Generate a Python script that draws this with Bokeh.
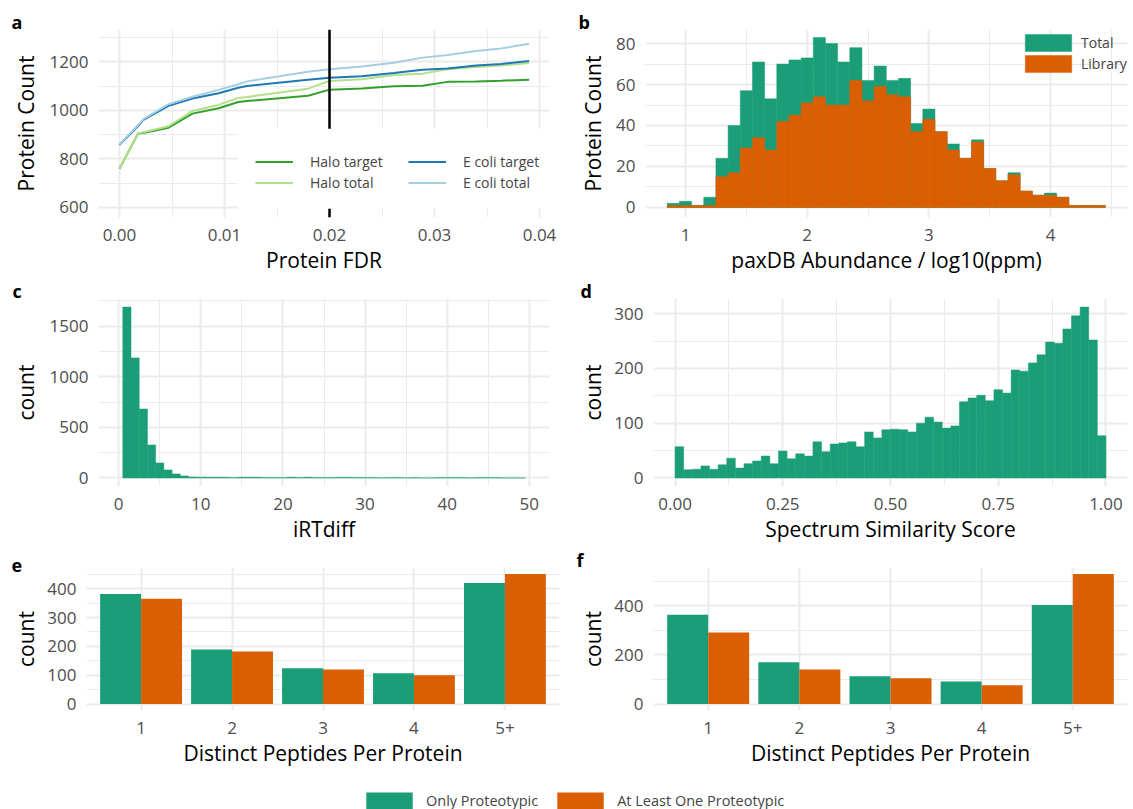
from bokeh.plotting import figure
from bokeh.models import (Range1d, FixedTicker, Legend, LegendItem, Span, BoxAnnotation,
                          ColumnDataSource, NumeralTickFormatter)
from bokeh.layouts import row, column
from bokeh.transform import dodge
from bokeh.embed import file_html
from bokeh.resources import INLINE

# ---------------- data ----------------
# panel a
fdr = [0.0, 0.00177, 0.00228, 0.00467, 0.00695, 0.00944, 0.01131, 0.01216, 0.01796,
       0.0200, 0.02307, 0.02613, 0.02886, 0.03124, 0.03397, 0.03635, 0.03901]
halo_target = [760, 905, 907, 929, 987, 1009, 1035, 1039, 1061, 1086, 1091, 1100, 1102, 1118, 1120, 1123, 1127]
halo_total = [760, 905, 910, 935, 998, 1023, 1052, 1056, 1090, 1122, 1129, 1146, 1152, 1170, 1179, 1185, 1196]
ecoli_target = [858, 936, 961, 1019, 1049, 1071, 1094, 1101, 1127, 1135, 1141, 1155, 1168, 1173, 1186, 1192, 1204]
ecoli_total = [861, 940, 964, 1026, 1057, 1085, 1108, 1120, 1160, 1170, 1181, 1197, 1218, 1229, 1245, 1256, 1275]
fdr_cutoff = 0.02

# panel b (bin centres, width 0.1)
b_centers = [0.9, 1.0, 1.1, 1.2, 1.3, 1.4, 1.5, 1.6, 1.7, 1.8, 1.9, 2.0, 2.1, 2.2, 2.3, 2.4, 2.5, 2.6,
             2.7, 2.8, 2.9, 3.0, 3.1, 3.2, 3.3, 3.4, 3.5, 3.6, 3.7, 3.8, 3.9, 4.0, 4.1, 4.2, 4.3, 4.4]
b_total = [2, 3, 1, 5, 24, 40, 57, 71, 53, 70, 72, 73, 83, 80, 71, 78, 62, 69,
           62, 63, 41, 48, 37, 31, 24, 33, 19, 13, 17, 8, 6, 7, 5, 1, 1, 1]
b_library = [1, 1, 1, 1, 15, 17, 29, 34, 28, 42, 45, 51, 54, 50, 50, 62, 52, 59,
             55, 54, 37, 43, 37, 28, 24, 32, 19, 13, 16, 8, 6, 6, 5, 1, 1, 1]

# panel c (bin centres 1..49, width 1)
c_centers = list(range(1, 50))
c_counts = [1690, 1187, 682, 326, 148, 79, 40, 20, 10, 8, 6, 6, 6, 3, 6, 6, 6, 3, 3, 3,
            6, 3, 6, 3, 3, 3, 5, 5, 3, 3, 3, 0, 3, 3, 0, 3, 0, 0, 3, 3,
            3, 3, 0, 3, 3, 3, 0, 0, 0]

# panel d (bin centres, width 0.02)
d_centers = [0.01, 0.03, 0.05, 0.07, 0.09, 0.11, 0.13, 0.15, 0.17, 0.19, 0.21, 0.23, 0.25, 0.27, 0.29,
             0.31, 0.33, 0.35, 0.37, 0.39, 0.41, 0.43, 0.45, 0.47, 0.49, 0.51, 0.53, 0.55, 0.57, 0.59,
             0.61, 0.63, 0.65, 0.67, 0.69, 0.71, 0.73, 0.75, 0.77, 0.79, 0.81, 0.83, 0.85, 0.87, 0.89,
             0.91, 0.93, 0.95, 0.97, 0.99]
d_counts = [57, 15, 16, 22, 16, 24, 36, 18, 26, 31, 40, 26, 49, 35, 44, 40, 66, 48, 62, 64,
            66, 57, 84, 73, 88, 89, 88, 84, 100, 111, 102, 91, 95, 139, 146, 151, 141, 161, 155, 197,
            195, 210, 225, 248, 246, 272, 296, 312, 252, 77]

# panels e, f
pep_categories = ["1", "2", "3", "4", "5+"]
e_only = [382, 189, 124, 107, 420]
e_atleast = [365, 182, 120, 100, 451]
f_only = [364, 170, 113, 92, 404]
f_atleast = [291, 141, 105, 76, 530]

# ---------------- style ----------------
FONT = "Open Sans"
GRID = "#ebebeb"
GREEN = "#1b9e77"
ORANGE = "#d95f02"
KEY_W = 58   # legend area glyphs are drawn with a 10% inset
KEY_H = 21


def make_fig(w, h, left, right, top, bottom, xr, yr, letter, letter_offset, y_title_gap):
    p = figure(width=w, height=h, x_range=Range1d(*xr), y_range=Range1d(*yr),
               output_backend="svg", toolbar_location=None,
               min_border_left=left, min_border_right=right,
               min_border_top=top, min_border_bottom=bottom)
    p.outline_line_color = None
    for ax in (p.xaxis[0], p.yaxis[0]):
        ax.axis_line_color = None
        ax.major_tick_line_color = None
        ax.minor_tick_line_color = None
        ax.major_tick_out = 0
        ax.minor_tick_out = 0
        ax.major_label_text_font = FONT
        ax.major_label_text_font_size = "17px"
        ax.major_label_text_color = "#4d4d4d"
        ax.axis_label_text_font = FONT
        ax.axis_label_text_font_size = "21px"
        ax.axis_label_text_font_style = "normal"
        ax.axis_label_text_color = "black"
    p.xaxis.major_label_standoff = 11
    p.xaxis.axis_label_standoff = 2
    p.yaxis.major_label_standoff = 10
    p.yaxis.axis_label_standoff = y_title_gap
    p.grid.grid_line_color = GRID
    p.grid.grid_line_width = 2
    p.grid.minor_grid_line_color = GRID
    p.grid.minor_grid_line_width = 1
    # panel letter
    p.title.text = letter
    p.title.align = "left"
    p.title.offset = letter_offset
    p.title.standoff = -8
    p.title.vertical_align = "bottom"
    p.title.text_font = FONT
    p.title.text_font_style = "bold"
    p.title.text_font_size = "18px"
    p.title.text_color = "black"
    return p


LW = 576
RW = 557

# ---------------- panel a ----------------
pa = make_fig(LW, 279, 98, 27, 29, 62, (-0.002, 0.04095), (558.6, 1334), "a", -87, 7)
pa.xaxis.ticker = FixedTicker(ticks=[0, 0.01, 0.02, 0.03, 0.04],
                              minor_ticks=[-0.005, 0.005, 0.015, 0.025, 0.035, 0.045])
pa.xaxis.formatter = NumeralTickFormatter(format="0.00")
pa.yaxis.ticker = FixedTicker(ticks=[600, 800, 1000, 1200], minor_ticks=[500, 700, 900, 1100, 1300])
pa.xaxis.axis_label = "Protein FDR"
pa.yaxis.axis_label = "Protein Count"
src_a = ColumnDataSource(dict(fdr=fdr, ht=halo_target, hto=halo_total, et=ecoli_target, eto=ecoli_total))
r_ht = pa.line("fdr", "ht", source=src_a, line_color="#33a02c", line_width=2)
r_hto = pa.line("fdr", "hto", source=src_a, line_color="#b2df8a", line_width=2)
r_et = pa.line("fdr", "et", source=src_a, line_color="#1f78b4", line_width=2)
r_eto = pa.line("fdr", "eto", source=src_a, line_color="#a6cee3", line_width=2)
pa.add_layout(Span(location=fdr_cutoff, dimension="height", line_color="black", line_width=2.5))
pa.add_layout(BoxAnnotation(left=0.01126, right=0.05, bottom=595, top=925,
                            fill_color="white", fill_alpha=1, line_color=None))
leg_a = Legend(items=[LegendItem(label="Halo target", renderers=[r_ht]),
                      LegendItem(label="Halo total", renderers=[r_hto]),
                      LegendItem(label="E coli target", renderers=[r_et]),
                      LegendItem(label="E coli total", renderers=[r_eto])],
               orientation="vertical", nrows=2, location=(157, 25),
               glyph_width=38, glyph_height=17, label_standoff=17, label_width=96,
               spacing=2, padding=0, margin=0, border_line_color=None,
               background_fill_alpha=0, label_text_font=FONT, label_text_font_size="14px")
pa.add_layout(leg_a)

# ---------------- panel b ----------------
pb = make_fig(RW, 279, 69, 6, 29, 62, (0.6713, 4.632), (-4.9, 86.85), "b", -67, 6)
pb.xaxis.ticker = FixedTicker(ticks=[1, 2, 3, 4], minor_ticks=[0.5, 1.5, 2.5, 3.5, 4.5])
pb.yaxis.ticker = FixedTicker(ticks=[0, 20, 40, 60, 80], minor_ticks=[10, 30, 50, 70])
pb.xaxis.axis_label = "paxDB Abundance / log10(ppm)"
pb.yaxis.axis_label = "Protein Count"
src_b = ColumnDataSource(dict(x=b_centers, total=b_total, lib=b_library))
r_tot = pb.vbar(x="x", top="total", width=0.1, source=src_b, fill_color=GREEN, line_color=GREEN, line_width=0.5)
r_lib = pb.vbar(x="x", top="lib", width=0.1, source=src_b, fill_color=ORANGE, line_color=ORANGE, line_width=0.5)
leg_b = Legend(items=[LegendItem(label="Total", renderers=[r_tot]),
                      LegendItem(label="Library", renderers=[r_lib])],
               location=(374, 143), glyph_width=KEY_W, glyph_height=KEY_H, label_standoff=4,
               label_width=50, spacing=0, padding=0, margin=0, border_line_color=None,
               background_fill_alpha=0, label_text_font=FONT, label_text_font_size="14px")
pb.add_layout(leg_b)

# ---------------- panel c ----------------
pc = make_fig(LW, 269, 98, 27, 19, 62, (-2.46, 52.46), (-84.5, 1774.5), "c", -86, 7)
pc.xaxis.ticker = FixedTicker(ticks=[0, 10, 20, 30, 40, 50], minor_ticks=[-5, 5, 15, 25, 35, 45, 55])
pc.yaxis.ticker = FixedTicker(ticks=[0, 500, 1000, 1500], minor_ticks=[250, 750, 1250, 1750])
pc.xaxis.axis_label = "iRTdiff"
pc.yaxis.axis_label = "count"
src_c = ColumnDataSource(dict(x=c_centers, top=c_counts))
pc.vbar(x="x", top="top", width=1, source=src_c, fill_color=GREEN, line_color=GREEN, line_width=0.5)

# ---------------- panel d ----------------
pd_ = make_fig(RW, 269, 77, 6, 19, 62, (-0.05, 1.05), (-15.6, 327.6), "d", -73, 4)
pd_.xaxis.ticker = FixedTicker(ticks=[0, 0.25, 0.5, 0.75, 1.0],
                               minor_ticks=[-0.125, 0.125, 0.375, 0.625, 0.875, 1.125])
pd_.xaxis.formatter = NumeralTickFormatter(format="0.00")
pd_.yaxis.ticker = FixedTicker(ticks=[0, 100, 200, 300], minor_ticks=[50, 150, 250])
pd_.xaxis.axis_label = "Spectrum Similarity Score"
pd_.yaxis.axis_label = "count"
src_d = ColumnDataSource(dict(x=d_centers, top=d_counts))
pd_.vbar(x="x", top="top", width=0.02, source=src_d, fill_color=GREEN, line_color=GREEN, line_width=0.5)


# ---------------- panels e, f ----------------
def bar_panel(w, left, right, ymax, yticks, yminor, only, atleast, name, lx, gap):
    p = make_fig(w, 224, left, right, 19, 62, (0.4, 5.6), (-0.05 * ymax, 1.05 * ymax), name, lx, gap)
    pos = [1, 2, 3, 4, 5]
    p.xaxis.ticker = FixedTicker(ticks=pos, minor_ticks=[])
    p.xaxis.major_label_overrides = {k: v for k, v in zip(pos, pep_categories)}
    p.yaxis.ticker = FixedTicker(ticks=yticks, minor_ticks=yminor)
    p.xaxis.axis_label = "Distinct Peptides Per Protein"
    p.yaxis.axis_label = "count"
    src = ColumnDataSource(dict(pos=pos, only=only, atleast=atleast))
    p.vbar(x=dodge("pos", -0.225), top="only", width=0.45, source=src, fill_color=GREEN, line_color=None)
    p.vbar(x=dodge("pos", 0.225), top="atleast", width=0.45, source=src, fill_color=ORANGE, line_color=None)
    return p


pe = bar_panel(LW, 86, 17, max(e_only + e_atleast), [0, 100, 200, 300, 400],
               [50, 150, 250, 350, 450], e_only, e_atleast, "e", -75, 4)
pf = bar_panel(RW, 77, 6, max(f_only + f_atleast), [0, 200, 400],
               [100, 300, 500], f_only, f_atleast, "f", -77, 4)

# ---------------- bottom legend ----------------
pl = figure(width=LW + RW, height=37, x_range=Range1d(0, 1), y_range=Range1d(0, 1),
            output_backend="svg", toolbar_location=None, min_border=0,
            x_axis_location=None, y_axis_location=None)
pl.outline_line_color = None
pl.grid.visible = False
g1 = pl.vbar(x=[-5], top=[0], width=0.1, fill_color=GREEN, line_color=None)
g2 = pl.vbar(x=[-5], top=[0], width=0.1, fill_color=ORANGE, line_color=None)
leg = Legend(items=[LegendItem(label="Only Proteotypic", renderers=[g1]),
                    LegendItem(label="At Least One Proteotypic", renderers=[g2])],
             orientation="horizontal", location=(360, -2),
             glyph_width=KEY_W, glyph_height=KEY_H, label_standoff=8, spacing=13,
             padding=0, margin=0, border_line_color=None, background_fill_alpha=0,
             label_text_font=FONT, label_text_font_size="14.5px")
pl.add_layout(leg)

layout = column(row(pa, pb), row(pc, pd_), row(pe, pf), pl)
open("out.html", "w").write(file_html(layout, INLINE))
